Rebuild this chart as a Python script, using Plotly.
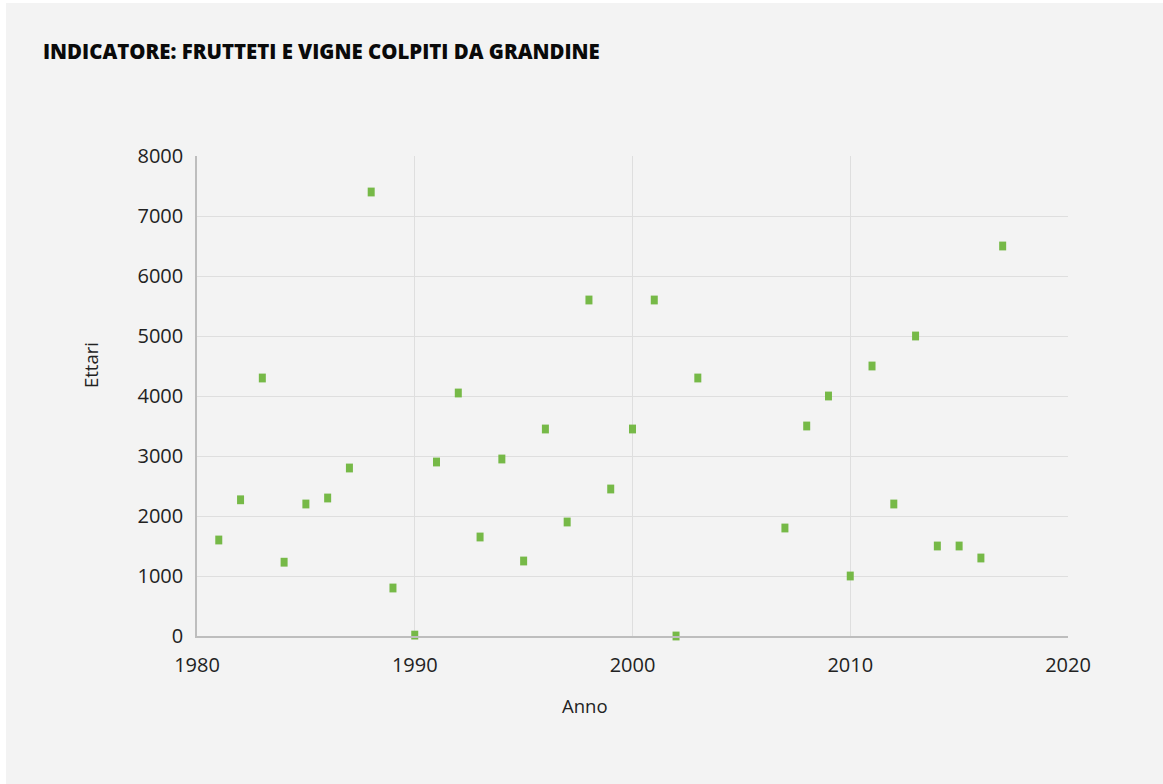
import plotly.graph_objects as go

# Hectares of orchards and vineyards hit by hail, by year
anni = [1981, 1982, 1983, 1984, 1985, 1986, 1987, 1988, 1989, 1990,
        1991, 1992, 1993, 1994, 1995, 1996, 1997, 1998, 1999, 2000,
        2001, 2002, 2003, 2007, 2008, 2009, 2010, 2011, 2012, 2013,
        2014, 2015, 2016, 2017]
ettari = [1600, 2270, 4300, 1230, 2200, 2300, 2800, 7400, 800, 15,
          2900, 4050, 1650, 2950, 1250, 3450, 1900, 5600, 2450, 3450,
          5600, 0, 4300, 1800, 3500, 4000, 1000, 4500, 2200, 5000,
          1500, 1500, 1300, 6500]

x_ticks = [1980, 1990, 2000, 2010, 2020]
y_ticks = [0, 1000, 2000, 3000, 4000, 5000, 6000, 7000, 8000]

titolo = "INDICATORE: FRUTTETI E VIGNE COLPITI DA GRANDINE"
titolo_x = "Anno"
titolo_y = "Ettari"

W, H = 1163, 784
L, R, T, B = 197, 95, 156, 148
pw, ph = W - L - R, H - T - B


def px_x(p):
    return (p - L) / pw


def px_y(p):
    return (H - B - p) / ph


GREEN = "#76b947"
BG = "#f3f3f3"
FONT = "Open Sans, sans-serif"

fig = go.Figure()
fig.add_trace(go.Scatter(
    x=anni, y=ettari, mode="markers",
    marker=dict(symbol="line-ns", size=6.3,
                line=dict(color=GREEN, width=7)),
    hoverinfo="x+y", showlegend=False, cliponaxis=False,
))

# grey card behind the whole chart, leaving a thin white edge top/left
fig.add_shape(type="rect", xref="paper", yref="paper", layer="below",
              x0=px_x(6), x1=px_x(W), y0=px_y(H), y1=px_y(3),
              fillcolor=BG, line=dict(width=0))

# axis titles
fig.add_annotation(text=titolo_x, xref="paper", yref="paper",
                   x=px_x(585), y=px_y(705), xanchor="center", yanchor="middle",
                   showarrow=False, font=dict(size=18.5, color="#222222"))
fig.add_annotation(text=titolo_y, xref="paper", yref="paper", textangle=-90,
                   x=px_x(90), y=px_y(365), xanchor="center", yanchor="middle",
                   showarrow=False, font=dict(size=18.5, color="#222222"))

fig.update_layout(
    width=W, height=H,
    margin=dict(l=L, r=R, t=T, b=B),
    paper_bgcolor="white",
    plot_bgcolor="rgba(0,0,0,0)",
    font=dict(family=FONT, size=18, color="#222222"),
    title=dict(text=titolo, xref="container", yref="container",
               x=43 / W, xanchor="left", y=1 - 52 / H, yanchor="middle",
               font=dict(family=FONT, size=20.4, color="#0a0a0a", weight=800)),
)
fig.update_xaxes(
    range=[1980, 2020], tickvals=x_ticks, ticktext=[str(v) for v in x_ticks],
    tickfont=dict(size=20, color="#222222"), ticklabelstandoff=10,
    showgrid=True, gridcolor="#dedede", gridwidth=1,
    showline=True, linecolor="#bdbdbd", linewidth=1.5,
    zeroline=False, ticks="", ticklen=0,
)
fig.update_yaxes(
    range=[0, 8000], tickvals=y_ticks, ticktext=[str(v) for v in y_ticks],
    tickfont=dict(size=20, color="#222222"), ticklabelstandoff=8,
    showgrid=True, gridcolor="#dedede", gridwidth=1,
    showline=True, linecolor="#bdbdbd", linewidth=1.5,
    zeroline=False, ticks="", ticklen=0,
)

fig.write_html("out.html")
